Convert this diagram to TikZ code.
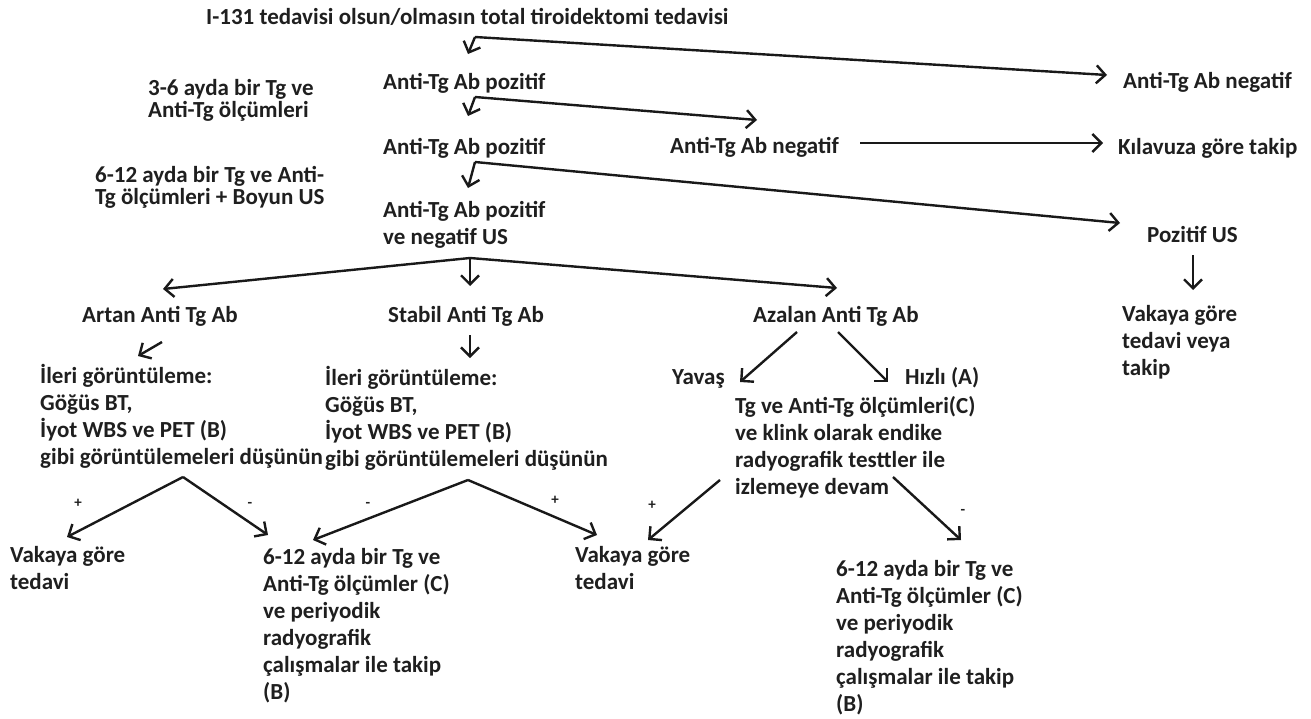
\documentclass[tikz,border=0pt]{standalone}
\usepackage{fontspec}
\setmainfont{Carlito}
\usetikzlibrary{arrows.meta}
\begin{document}
\begin{tikzpicture}[x=1pt,y=-1pt,
  txt/.style={anchor=north west,inner sep=0pt,align=left,
    font=\bfseries\fontsize{23}{27}\selectfont,text=black!88,
    execute at begin node=\strut},
  note/.style={txt,font=\bfseries\fontsize{23}{22}\selectfont},
  sgn/.style={inner sep=0pt,text=black!88,font=\bfseries\fontsize{15}{15}\selectfont},
  arr/.style={line width=2.4pt,black!90,-{Straight Barb[length=9pt,width=18pt]}},
]
\useasboundingbox[fill=white] (0,0) rectangle (1311,718);
% text nodes (positions: left edge, line centre - 12)
\node[txt] (title) at (206,5) {I-131 tedavisi olsun/olmasın total tiroidektomi tedavisi};
\node[txt] (p1) at (383,70) {Anti-Tg Ab pozitif};
\node[txt] (n1) at (1123,69) {Anti-Tg Ab negatif};
\node[note] (note1) at (148,79) {3-6 ayda bir Tg ve\\Anti-Tg ölçümleri};
\node[txt] (p2) at (383,135) {Anti-Tg Ab pozitif};
\node[txt] (n2) at (670,134) {Anti-Tg Ab negatif};
\node[txt] (k) at (1118,135) {Kılavuza göre takip};
\node[note] (note2) at (95,166) {6-12 ayda bir Tg ve Anti-\\Tg ölçümleri + Boyun US};
\node[txt] (p3) at (383,201) {Anti-Tg Ab pozitif\\ve negatif US};
\node[txt] (pus) at (1147,223) {Pozitif US};
\node[txt] (v3) at (1122,305) {Vakaya göre\\tedavi veya\\takip};
\node[txt] (a) at (82,303) {Artan Anti Tg Ab};
\node[txt] (s) at (388,303) {Stabil Anti Tg Ab};
\node[txt] (z) at (753,303) {Azalan Anti Tg Ab};
\node[txt] (i1) at (40,364) {İleri görüntüleme:\\Göğüs BT,\\İyot WBS ve PET (B)\\gibi görüntülemeleri düşünün};
\node[txt] (i2) at (325,366) {İleri görüntüleme:\\Göğüs BT,\\İyot WBS ve PET (B)\\gibi görüntülemeleri düşünün};
\node[txt] (y) at (672,365) {Yavaş};
\node[txt] (h) at (905,365) {Hızlı (A)};
\node[txt] (t) at (735,396) {Tg ve Anti-Tg ölçümleri(C)\\ve klink olarak endike\\radyografik testtler ile\\izlemeye devam};
\node[txt] (v1) at (10,546) {Vakaya göre\\tedavi};
\node[txt] (f1) at (263,548) {6-12 ayda bir Tg ve\\Anti-Tg ölçümler (C)\\ve periyodik\\radyografik\\çalışmalar ile takip\\(B)};
\node[txt] (v2) at (575,546) {Vakaya göre\\tedavi};
\node[txt] (f2) at (836,560) {6-12 ayda bir Tg ve\\Anti-Tg ölçümler (C)\\ve periyodik\\radyografik\\çalışmalar ile takip\\(B)};
% signs
\node[sgn] (s1) at (78,503) {+};
\node[sgn] (s2) at (250,505) {-};
\node[sgn] (s3) at (368,505) {-};
\node[sgn] (s4) at (555,500) {+};
\node[sgn] (s5) at (652,505) {+};
\node[sgn] (s6) at (963,512) {-};
% connector coordinates
\coordinate (c1) at (475,37);
\coordinate (c2) at (475,97);
\coordinate (c3) at (475,162);
\coordinate (c4) at (470,258);
\coordinate (c5) at (183,477);
\coordinate (c6) at (468,480);
\coordinate (p1t) at (468,54);
\coordinate (n1t) at (1107,75);
\coordinate (p2t) at (468,116);
\coordinate (n2t) at (757,120);
\coordinate (n2r) at (860,143);
\coordinate (kt) at (1103,143);
\coordinate (p3t) at (468,188);
\coordinate (pust) at (1120,223);
\coordinate (pusb) at (1193,255);
\coordinate (v3t) at (1193,290);
\coordinate (at) at (163,289);
\coordinate (st) at (470,286);
\coordinate (zt) at (837,288);
\coordinate (ab) at (162,342);
\coordinate (i1t) at (138,356);
\coordinate (sb) at (470,335);
\coordinate (i2t) at (470,358);
\coordinate (zb1) at (797,332);
\coordinate (yt) at (740,382);
\coordinate (zb2) at (838,332);
\coordinate (ht) at (888,382);
\coordinate (v1t) at (67,537);
\coordinate (f1t) at (268,535);
\coordinate (f1t2) at (313,540);
\coordinate (v2t) at (597,535);
\coordinate (tb1) at (720,480);
\coordinate (v2t2) at (648,540);
\coordinate (tb2) at (893,477);
\coordinate (f2t) at (961,540);
% connectors
\draw[arr] (c1) -- (p1t);
\draw[arr] (c1) -- (n1t);
\draw[arr] (c2) -- (p2t);
\draw[arr] (c2) -- (n2t);
\draw[arr] (n2r) -- (kt);
\draw[arr] (c3) -- (p3t);
\draw[arr] (c3) -- (pust);
\draw[arr] (pusb) -- (v3t);
\draw[arr] (c4) -- (at);
\draw[arr] (c4) -- (st);
\draw[arr] (c4) -- (zt);
\draw[arr] (ab) -- (i1t);
\draw[arr] (sb) -- (i2t);
\draw[arr] (zb1) -- (yt);
\draw[arr] (zb2) -- (ht);
\draw[arr] (c5) -- (v1t);
\draw[arr] (c5) -- (f1t);
\draw[arr] (c6) -- (f1t2);
\draw[arr] (c6) -- (v2t);
\draw[arr] (tb1) -- (v2t2);
\draw[arr] (tb2) -- (f2t);
\end{tikzpicture}
\end{document}
